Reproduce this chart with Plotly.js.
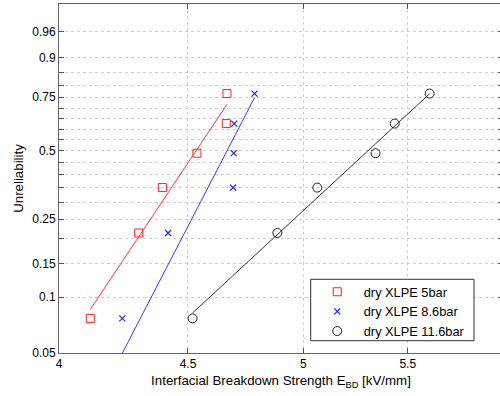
<!DOCTYPE html>
<html>
<head>
<meta charset="utf-8">
<script src="https://cdn.plot.ly/plotly-3.0.1.min.js"></script>
<style>
html, body { margin: 0; padding: 0; overflow: hidden; background: #fff; }
#chart { width: 503px; height: 396px; }
</style>
</head>
<body>
<div id="chart"></div>
<script>
// Unreliability (median ranks) shared by all three series
const unreliability = [0.077, 0.214, 0.351, 0.490, 0.627, 0.766];
// Interfacial breakdown strength [kV/mm]
const ebd5bar = [4.116, 4.302, 4.396, 4.537, 4.660, 4.663];
const ebd86bar = [4.238, 4.419, 4.689, 4.692, 4.694, 4.782];
const ebd116bar = [4.519, 4.883, 5.064, 5.341, 5.435, 5.611];
const seriesNames = ['dry XLPE 5bar', 'dry XLPE 8.6bar', 'dry XLPE 11.6bar'];
// Weibull fit parameters (scale alpha, shape beta)
const weibullScale = [4.612, 4.726, 5.454];
const weibullShape = [21.17, 27.28, 13.05];
// Tick values and labels
const xTickVals = [4, 4.5, 5, 5.5, 6];
const xTickLabels = ['4', '4.5', '5', '5.5', '6'];
const yTickVals = [0.05, 0.1, 0.15, 0.2, 0.25, 0.3, 0.35, 0.4, 0.45, 0.5, 0.55, 0.6, 0.65, 0.7, 0.75, 0.8, 0.85, 0.9, 0.96];
const yTickLabels = ['0.05', '0.1', '0.15', '', '0.25', '', '', '', '', '0.5', '', '', '', '', '0.75', '', '', '0.9', '0.96'];
const yRange = [0.05, 0.99];
const xRange = [4, 6];

const wb = F => Math.log(-Math.log(1 - F));

const colors = ['#ff2020', '#2020ff', '#202020'];
const symbols = ['square-open', 'x-thin-open', 'circle-open'];
const sizes = [8, 6, 9];
const ebds = [ebd5bar, ebd86bar, ebd116bar];

const traces = [];
ebds.forEach((e, i) => {
  const xmin = Math.min(...e), xmax = Math.max(...e);
  const fx = [xmin, xmax];
  traces.push({
    x: fx,
    y: fx.map(v => weibullShape[i] * (Math.log(v) - Math.log(weibullScale[i]))),
    mode: 'lines',
    line: { color: colors[i], width: 0.9 },
    showlegend: false,
    hoverinfo: 'skip'
  });
});
ebds.forEach((e, i) => {
  traces.push({
    x: e,
    y: unreliability.map(wb),
    mode: 'markers',
    name: seriesNames[i],
    marker: { symbol: symbols[i], size: sizes[i], color: colors[i], line: { color: colors[i], width: i === 1 ? 1.2 : 1 } }
  });
});

const FONT = 'Liberation Sans, Arial, sans-serif';
const axisCommon = {
  showline: true, linecolor: '#666', linewidth: 1, mirror: 'ticks',
  ticks: 'inside', ticklen: 5, tickcolor: '#555', tickwidth: 1,
  showgrid: true, gridcolor: '#cccccc', gridwidth: 1, griddash: 'dot',
  zeroline: false, automargin: false,
  tickfont: { family: FONT, size: 12, color: '#000' }
};

const layout = {
  width: 503, height: 396,
  margin: { l: 59, r: 0, t: 4, b: 43 },
  paper_bgcolor: '#fff', plot_bgcolor: '#fff',
  font: { family: FONT, size: 12, color: '#000' },
  xaxis: Object.assign({}, axisCommon, {
    type: 'log',
    range: xRange.map(Math.log10),
    tickvals: xTickVals, ticktext: xTickLabels,
    title: { text: 'Interfacial Breakdown Strength E<sub>BD</sub> [kV/mm]', font: { size: 13.3 }, standoff: 5 }
  }),
  yaxis: Object.assign({}, axisCommon, {
    range: yRange.map(wb),
    tickvals: yTickVals.map(wb), ticktext: yTickLabels,
    title: { text: 'Unreliability', font: { size: 13.3 }, standoff: 5 }
  }),
  shapes: [{
    type: 'rect', xref: 'paper', yref: 'paper', layer: 'above',
    x0: 0.5669, x1: 0.9347, y0: 0.0352, y1: 0.2112,
    line: { color: '#333', width: 1 }, fillcolor: '#fff'
  }],
  legend: {
    x: 0.567, y: 0.218, xanchor: 'left', yanchor: 'top',
    bgcolor: 'rgba(0,0,0,0)', borderwidth: 0,
    font: { size: 12.8 }, itemwidth: 43, tracegroupgap: 0
  },
  showlegend: true
};

Plotly.newPlot('chart', traces, layout, { staticPlot: true, displayModeBar: false });
</script>
</body>
</html>
